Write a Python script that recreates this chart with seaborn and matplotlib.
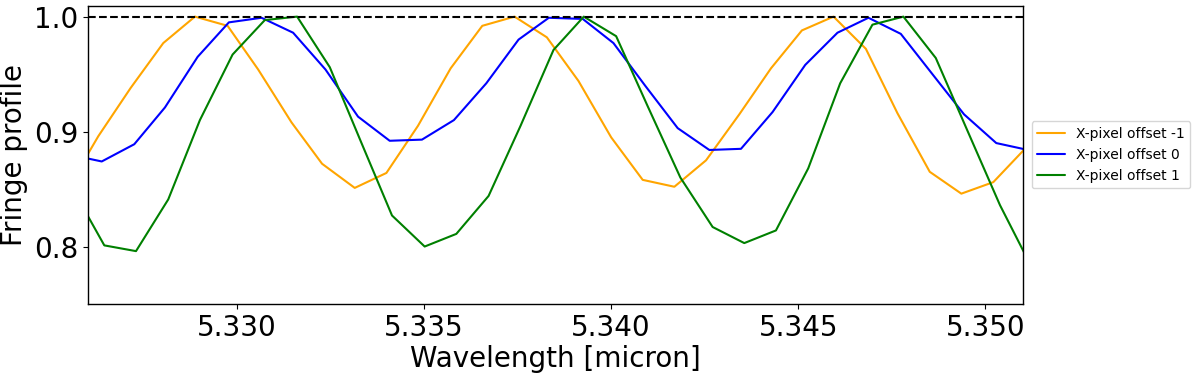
import matplotlib
matplotlib.use("Agg")
import matplotlib.pyplot as plt
import matplotlib.ticker as mticker
import pandas as pd
import seaborn as sns

# wavelength grid (micron) and normalised fringe profile for each x-pixel offset
wl_m1 = [5.325435, 5.326297, 5.327162, 5.328033, 5.328879, 5.329752, 5.330569,
         5.331460, 5.332277, 5.333150, 5.333996, 5.334840, 5.335713, 5.336559,
         5.337421, 5.338284, 5.339130, 5.340003, 5.340846, 5.341692, 5.342539,
         5.343428, 5.344274, 5.345101, 5.345946, 5.346810, 5.347654, 5.348518,
         5.349362, 5.350216, 5.351062]
fr_m1 = [0.848, 0.896, 0.938, 0.977, 1.000, 0.992, 0.954,
         0.908, 0.872, 0.851, 0.864, 0.905, 0.955, 0.992,
         1.000, 0.982, 0.944, 0.895, 0.858, 0.852, 0.875,
         0.915, 0.955, 0.988, 1.000, 0.972, 0.916, 0.865,
         0.846, 0.856, 0.885]

wl_0 = [5.325523, 5.326388, 5.327258, 5.328078, 5.328951, 5.329786, 5.330659,
        5.331503, 5.332368, 5.333238, 5.334084, 5.334947, 5.335801, 5.336666,
        5.337528, 5.338337, 5.339244, 5.340064, 5.340910, 5.341781, 5.342627,
        5.343473, 5.344317, 5.345190, 5.346052, 5.346880, 5.347744, 5.348588,
        5.349434, 5.350296, 5.351142]
fr_0 = [0.880, 0.874, 0.889, 0.921, 0.965, 0.995, 0.999,
        0.986, 0.954, 0.913, 0.892, 0.893, 0.910, 0.942,
        0.980, 0.999, 0.998, 0.977, 0.940, 0.903, 0.884,
        0.885, 0.917, 0.958, 0.986, 0.999, 0.985, 0.950,
        0.915, 0.890, 0.884]

wl_p1 = [5.325614, 5.326457, 5.327304, 5.328166, 5.329012, 5.329885, 5.330747,
         5.331610, 5.332483, 5.333331, 5.334146, 5.335019, 5.335865, 5.336727,
         5.337581, 5.338462, 5.339271, 5.340136, 5.340980, 5.341853, 5.342715,
         5.343561, 5.344407, 5.345270, 5.346124, 5.346986, 5.347814, 5.348679,
         5.349522, 5.350395, 5.351209]
fr_p1 = [0.850, 0.801, 0.796, 0.841, 0.910, 0.967, 0.997,
         1.000, 0.956, 0.890, 0.827, 0.800, 0.811, 0.844,
         0.905, 0.971, 1.000, 0.983, 0.922, 0.860, 0.817,
         0.803, 0.814, 0.868, 0.942, 0.993, 1.000, 0.964,
         0.901, 0.836, 0.784]

labels = ['X-pixel offset -1', 'X-pixel offset 0', 'X-pixel offset 1']
colors = ['orange', 'blue', 'green']
xticks = [5.330, 5.335, 5.340, 5.345, 5.350]
yticks = [0.8, 0.9, 1.0]

df = pd.concat([
    pd.DataFrame({'wavelength': wl_m1, 'fringe': fr_m1, 'series': labels[0]}),
    pd.DataFrame({'wavelength': wl_0, 'fringe': fr_0, 'series': labels[1]}),
    pd.DataFrame({'wavelength': wl_p1, 'fringe': fr_p1, 'series': labels[2]}),
], ignore_index=True)

sns.set_style('ticks', rc={'text.color': 'black', 'axes.labelcolor': 'black',
                           'xtick.color': 'black', 'ytick.color': 'black',
                           'axes.edgecolor': 'black'})
plt.rcParams['font.family'] = ['DejaVu Sans']

fig = plt.figure(figsize=(12, 3.75), dpi=100)
ax = fig.add_axes([0.0733, 0.1893, 0.7792, 0.7955])

sns.lineplot(data=df, x='wavelength', y='fringe', hue='series', hue_order=labels,
             palette=colors, linewidth=1.5, errorbar=None, ax=ax)
ax.axhline(1.0, color='black', linestyle='--', linewidth=1.5)

ax.set_xlim(5.32602, 5.35101)
ax.set_ylim(0.75, 1.0095)
ax.set_xticks(xticks)
ax.set_yticks(yticks)
ax.xaxis.set_major_formatter(mticker.FormatStrFormatter('%.3f'))
ax.tick_params(labelsize=20, color='black', labelcolor='black')
ax.set_xlabel('Wavelength [micron]', fontsize=20, labelpad=2, color='black')
ax.set_ylabel('Fringe profile', fontsize=20, color='black')
for sp in ax.spines.values():
    sp.set_color('black')
    sp.set_linewidth(1.0)

leg = ax.legend(loc='center left', bbox_to_anchor=(1.0093, 0.5), borderaxespad=0,
                fontsize=10, title=None)
for t in leg.get_texts():
    t.set_color('black')

fig.savefig('out.png', dpi=100, facecolor='white')
